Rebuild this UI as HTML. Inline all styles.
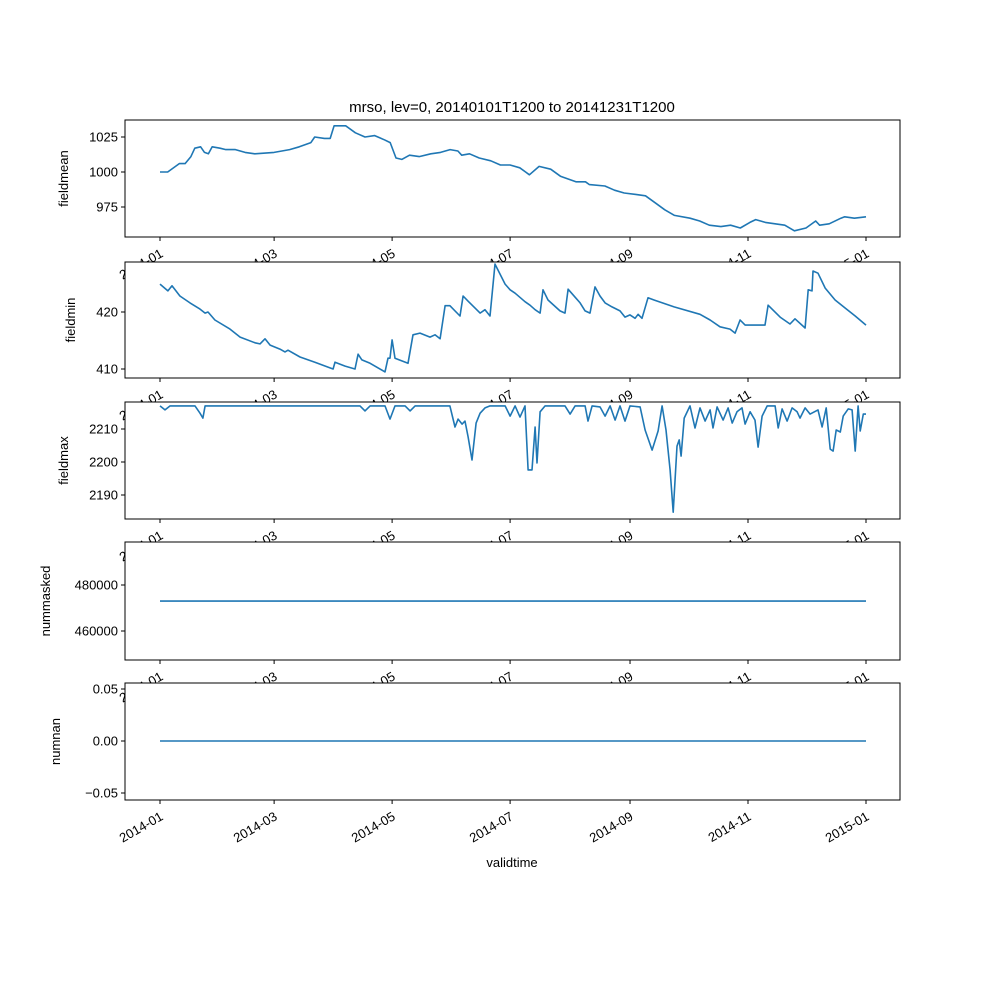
<!DOCTYPE html>
<html><head><meta charset="utf-8"><style>body{margin:0;background:#fff}svg{display:block;font-family:"Liberation Sans","DejaVu Sans",sans-serif}</style></head>
<body>
<svg id="fig" width="1000" height="1000"></svg>
<script>
const xTickLabels=["2014-01","2014-03","2014-05","2014-07","2014-09","2014-11","2015-01"];
const xTickDays=[0,59,120,181,243,304,365];
const meanDays=[0,4,8,10,13,16,18,21,23,25,27,31,34,39,44,49,59,67,72,78,80,85,88,90,96,101,106,111,116,119,122,125,129,134,140,145,150,154,156,160,165,171,176,181,186,189,191,196,202,207,215,220,222,230,235,240,246,251,256,261,266,274,279,284,290,295,300,305,308,313,318,323,328,334,339,341,346,352,354,359,365];
const meanVals=[1000,1000,1004,1006,1006,1011,1017,1018,1014,1013,1018,1017,1016,1016,1014,1013,1014,1016,1018,1021,1025,1024,1024,1033,1033,1028,1025,1026,1023,1021,1010,1009,1012,1011,1013,1014,1016,1015,1012,1013,1010,1008,1005,1005,1003,1000,998,1004,1002,997,993,993,991,990,987,985,984,983,978,973,969,967,965,962,961,962,960,964,966,964,963,962,958,960,965,962,963,967,968,967,968];
const minDays=[0,4.1,6.2,10.3,15.5,20.7,23.3,24.8,28.4,36.2,41.4,49.1,51.7,54.3,56.9,62,64.6,66.2,72.4,80.1,87.9,89.5,90.5,95.7,100.8,102.4,104.4,108.6,116.3,117.9,118.9,120,121.5,128.2,130.8,134.4,139.6,142.2,144.8,147.4,149.9,155.1,156.7,159.3,165.5,168,170.6,173.2,178.4,181,183.6,188.7,191.3,193.9,196.5,198,200.6,206.8,209.4,211,214.6,217.2,219.8,222.3,224.9,227.5,230.1,233.7,237.8,240.4,243,245.6,247.2,249.2,252.3,255.4,265.8,279.2,284.4,289.5,294.7,297.3,299.9,302.5,312.8,314.4,320.6,325.7,328.3,333.5,335.1,337.1,337.6,340.2,343.9,349,354.2,359.4,365];
const minVals=[424.9,423.7,424.6,422.8,421.6,420.5,419.8,420,418.6,417,415.6,414.6,414.4,415.3,414.2,413.5,413,413.3,412.1,411.2,410.2,410,411.2,410.5,410,412.6,411.6,411,409.5,411.9,411.9,415.1,411.9,411,416,416.3,415.6,416,415.3,421.1,421.1,419.3,422.8,421.9,419.8,420.4,419.3,428.4,424.9,423.9,423.3,421.8,421.2,420.4,419.8,423.9,422.1,420.2,419.8,424,422.6,421.6,420.2,419.8,424.4,422.8,421.6,420.9,420.2,419.1,419.5,418.9,419.6,418.9,422.5,422.1,420.9,419.6,418.6,417.4,417,416.3,418.6,417.7,417.7,421.2,419.1,417.9,418.8,417.2,423.9,423.7,427.2,426.8,424.2,422.1,420.7,419.3,417.7];
const maxDays=[0,2.6,5.2,7.8,18.1,20.7,22.2,23.3,103.4,106,108.6,116.3,118.9,121.5,126.7,129.3,131.9,149.9,152.5,154.1,156.2,157.7,159.3,161.3,163.4,165.5,168,170.6,178.4,181,183.6,186.1,188.7,190.3,192.3,193.9,194.9,196.5,199.1,209.4,212,214.6,219.8,221.3,223.4,227.5,230.1,232.7,235.3,237.8,240.4,243,248.2,250.8,254.4,257.5,259.6,261.6,263.7,265.3,267.3,268.4,269.4,271,274,276.6,279.2,281.8,284.4,285.9,288,291.1,293.7,295.8,298.3,300.9,302.5,305.1,307.6,309.2,311.3,313.9,318,319.6,321.6,324.2,326.8,329.4,330.9,333.5,336.1,340.2,342.3,344.4,346.5,348,349.6,351.7,353.2,355.8,357.8,359.4,360.9,362,363.6,365];
const maxVals=[2217,2215.8,2217,2217,2217,2214.8,2213.3,2217,2217,2215.5,2217,2217,2213,2217,2217,2215.5,2217,2217,2210.6,2213,2211.5,2212.4,2207.6,2200.6,2211.8,2214.8,2216.4,2217,2217,2213.9,2217,2213.6,2217,2197.6,2197.6,2210.6,2199.7,2215.2,2217,2217,2214.5,2217,2217,2212.4,2217,2216.7,2213.9,2217,2212.7,2217,2212.4,2217,2216.7,2209.7,2203.6,2209.4,2217,2209.7,2197.6,2184.8,2204.8,2206.7,2201.8,2213.3,2217,2210.3,2216.4,2212.4,2215.8,2210.3,2216.7,2212.7,2216.4,2211.8,2215.2,2216.4,2211.5,2215.2,2212.7,2204.5,2213.9,2217,2217,2210.3,2216.1,2212.4,2216.4,2215.2,2213.3,2216.4,2214.5,2215.8,2210.6,2216.4,2203.9,2203.3,2209.7,2209.1,2213.9,2216.1,2215.8,2203.3,2217,2209.4,2214.5,2214.5];
const maskedDays=[0,365];
const maskedVals=[473000,473000];
const nanDays=[0,365];
const nanVals=[0,0];

const NS="http://www.w3.org/2000/svg";
const svg=document.getElementById('fig');
function mk(tag,attrs,parent){const e=document.createElementNS(NS,tag);for(const k in attrs)e.setAttribute(k,attrs[k]);(parent||svg).appendChild(e);return e;}
const X0=125,X1=900;
function xs(d){return 160+d*(866-160)/365;}
const panels=[
 {name:'fieldmean',top:120,bot:237,days:meanDays,vals:meanVals,ticks:[975,1000,1025],tl:["975","1000","1025"],y:v=>172-(v-1000)*35/25,lx:68},
 {name:'fieldmin',top:262,bot:378,days:minDays,vals:minVals,ticks:[410,420],tl:["410","420"],y:v=>312-(v-420)*5.7,lx:75},
 {name:'fieldmax',top:402,bot:519,days:maxDays,vals:maxVals,ticks:[2190,2200,2210],tl:["2190","2200","2210"],y:v=>429-(v-2210)*3.3,lx:68},
 {name:'nummasked',top:542,bot:660,days:maskedDays,vals:maskedVals,ticks:[460000,480000],tl:["460000","480000"],y:v=>585+(480000-v)*46/20000,lx:50},
 {name:'numnan',top:683,bot:800,days:nanDays,vals:nanVals,ticks:[-0.05,0,0.05],tl:["\u22120.05","0.00","0.05"],y:v=>741-v*1040,lx:60}
];
panels.forEach((p,i)=>{
 const g=mk('g',{});
 
 
 mk('rect',{x:X0,y:p.top,width:X1-X0,height:p.bot-p.top,fill:'#fff'},g);
 let d='';
 p.days.forEach((dd,j)=>{d+=(j?'L':'M')+xs(dd).toFixed(1)+','+p.y(p.vals[j]).toFixed(1);});
 const line=mk('path',{d:d,fill:'none',stroke:'#1f77b4','stroke-width':1.6,'stroke-linejoin':'round'},g);
 
 
 mk('rect',{x:X0,y:p.top,width:X1-X0,height:p.bot-p.top,fill:'none',stroke:'#000','stroke-width':1},g);
 p.ticks.forEach((t,k)=>{
  const yy=p.y(t);
  mk('line',{x1:X0-4,x2:X0,y1:yy,y2:yy,stroke:'#000'},g);
  const tx=mk('text',{x:X0-7,y:yy+4.5,'text-anchor':'end','font-size':13},g);
  tx.textContent=p.tl[k];
  
  
 });
 const yl=mk('text',{x:p.lx,y:(p.top+p.bot)/2,'text-anchor':'middle','font-size':13,transform:`rotate(-90 ${p.lx} ${(p.top+p.bot)/2})`},g);
 yl.textContent=p.name;
 
 
 xTickDays.forEach((dd,k)=>{
  const xx=xs(dd);
  mk('line',{x1:xx,x2:xx,y1:p.bot,y2:p.bot+4,stroke:'#000'},g);
  const ax=xx+4,ay=p.bot+19;
  const tx=mk('text',{x:ax,y:ay,'text-anchor':'end','font-size':13,transform:`rotate(-30 ${ax} ${ay})`},g);
  tx.textContent=xTickLabels[k];
  
  
 });
});
const title=mk('text',{x:512,y:112,'text-anchor':'middle','font-size':15});
title.textContent='mrso, lev=0, 20140101T1200 to 20141231T1200';


const xl=mk('text',{x:512,y:867,'text-anchor':'middle','font-size':13});
xl.textContent='validtime';


</script>
</body></html>
